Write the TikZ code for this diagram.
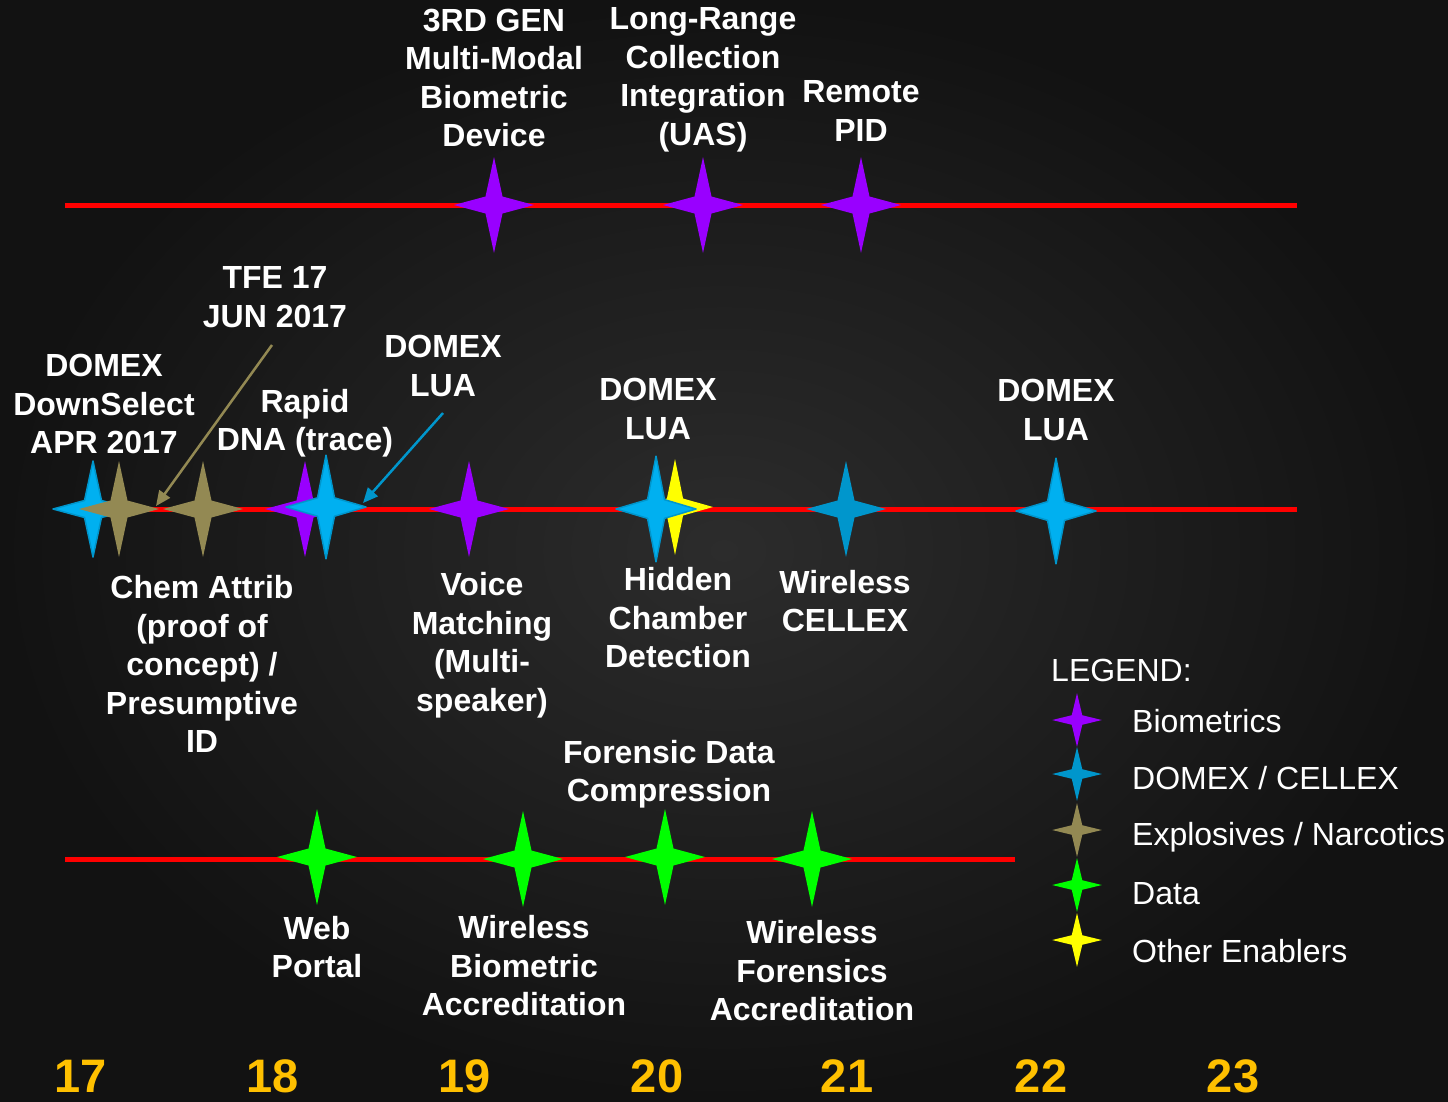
\documentclass[tikz,border=0pt]{standalone}
\usepackage{fontspec}
\setmainfont{Liberation Sans}
\usetikzlibrary{arrows.meta}

\definecolor{bio}{HTML}{9900FF}
\definecolor{domex}{HTML}{00B0F0}
\definecolor{domexdk}{HTML}{0096CC}
\definecolor{explo}{HTML}{938953}
\definecolor{datagr}{HTML}{00FF00}
\definecolor{enabler}{HTML}{FFFF00}
\definecolor{yearcol}{HTML}{FFC000}
\definecolor{bgmid}{HTML}{2C2C2C}
\definecolor{bgedge}{HTML}{121212}

\tikzset{
  pics/spark/.style={code={\path[pic actions,line join=round] (0,-48) -- (8.5,-8.5) -- (40,0) -- (8.5,8.5) -- (0,48) -- (-8.5,8.5) -- (-40,0) -- (-8.5,-8.5) -- cycle;}},
  lbl/.style={text=white,font=\bfseries\fontsize{32}{38.5}\selectfont,align=center,inner sep=0pt},
  leg/.style={text=white,font=\fontsize{32}{38}\selectfont,anchor=west,inner sep=0pt},
  yr/.style={text=yearcol,font=\bfseries\fontsize{47}{47}\selectfont,anchor=base,inner sep=0pt},
  track/.style={red,line width=5pt},
  bluestar/.style={fill=domex,draw=domexdk,line width=1.5pt},
  tick/.style={xscale=0.62,yscale=0.56},
}

\begin{document}
\begin{tikzpicture}[x=1pt,y=-1pt]
  \shade[inner color=bgmid,outer color=bgedge] (0,0) rectangle (1448,1101);
  \useasboundingbox (0,0) rectangle (1448,1101);

  % the three tracks
  \coordinate (t1w) at (65,205);  \coordinate (t1e) at (1297,205);
  \coordinate (t2w) at (65,509);  \coordinate (t2e) at (1297,509);
  \coordinate (t3w) at (65,859);  \coordinate (t3e) at (1015,859);
  \draw[track] (t1w) -- (t1e);
  \draw[track] (t2w) -- (t2e);
  \draw[track] (t3w) -- (t3e);

  % top track
  \coordinate (gen3) at (494,205);
  \coordinate (uas) at (703,205);
  \coordinate (pid) at (861,205);
  \pic[fill=bio] at (gen3) {spark};
  \pic[fill=bio] at (uas) {spark};
  \pic[fill=bio] at (pid) {spark};
  \node[lbl] (gen3-t) at (494,78) {3RD GEN\\Multi-Modal\\Biometric\\Device};
  \node[lbl] (uas-t) at (703,80) {Long-Range\\Collection\\Integration\\(UAS)};
  \node[lbl] (pid-t) at (861,111) {Remote\\PID};

  % middle track
  \coordinate (dsel) at (93,509);
  \coordinate (chemA) at (119,509);
  \coordinate (chemB) at (203,509);
  \coordinate (dna) at (305,509);
  \coordinate (luaA) at (326,507);
  \coordinate (voice) at (469,509);
  \coordinate (hidden) at (675,507);
  \coordinate (luaB) at (656,509);
  \coordinate (cellex) at (846,509);
  \coordinate (luaC) at (1056,511);
  \pic[bluestar] at (dsel) {spark};
  \pic[fill=explo] at (chemA) {spark};
  \pic[fill=explo] at (chemB) {spark};
  \pic[fill=bio] at (dna) {spark};
  \pic[bluestar,yscale=1.08] at (luaA) {spark};
  \pic[fill=bio] at (voice) {spark};
  \pic[fill=enabler,xscale=0.95] at (hidden) {spark};
  \pic[bluestar,yscale=1.1] at (luaB) {spark};
  \pic[fill=domexdk] at (cellex) {spark};
  \pic[bluestar,yscale=1.1] at (luaC) {spark};

  \node[lbl] (tfe-t) at (275,297) {TFE 17\\JUN 2017};
  \node[lbl] (dsel-t) at (104,404) {DOMEX\\DownSelect\\APR 2017};
  \node[lbl] (dna-t) at (305,423) {Rapid\\DNA (trace)};
  \node[lbl] (luaA-t) at (443,366) {DOMEX\\LUA};
  \node[lbl] (luaB-t) at (658,409) {DOMEX\\LUA};
  \node[lbl] (luaC-t) at (1056,410) {DOMEX\\LUA};
  \node[lbl] (chem-t) at (202,664) {Chem Attrib\\(proof of\\concept) /\\Presumptive\\ID};
  \node[lbl] (voice-t) at (482,645) {Voice\\Matching\\(Multi-\\speaker)};
  \node[lbl] (hidden-t) at (678,618) {Hidden\\Chamber\\Detection};
  \node[lbl] (cellex-t) at (845,601) {Wireless\\CELLEX};

  \coordinate (tfe-s) at (272,345);
  \coordinate (tfe-e) at (156,506);
  \coordinate (luaA-s) at (443,413);
  \coordinate (luaA-e) at (363,503);
  \draw[explo,line width=2.5pt,-{Triangle[length=15pt,width=13pt]}] (tfe-s) -- (tfe-e);
  \draw[domexdk,line width=2.5pt,-{Triangle[length=15pt,width=13pt]}] (luaA-s) -- (luaA-e);

  % bottom track
  \coordinate (web) at (317,857);
  \coordinate (wba) at (523,859);
  \coordinate (fdc) at (665,857);
  \coordinate (wfa) at (812,859);
  \pic[fill=datagr] at (web) {spark};
  \pic[fill=datagr] at (wba) {spark};
  \pic[fill=datagr] at (fdc) {spark};
  \pic[fill=datagr] at (wfa) {spark};
  \node[lbl] (fdc-t) at (669,774) {Forensic Data\\Compression};
  \node[lbl] (web-t) at (317,947) {Web\\Portal};
  \node[lbl] (wba-t) at (524,966) {Wireless\\Biometric\\Accreditation};
  \node[lbl] (wfa-t) at (812,971) {Wireless\\Forensics\\Accreditation};

  % legend
  \node[leg] (leg-t) at (1051,670) {LEGEND:};
  \coordinate (lg1) at (1077,720);
  \coordinate (lg2) at (1077,774);
  \coordinate (lg3) at (1077,830);
  \coordinate (lg4) at (1077,885);
  \coordinate (lg5) at (1077,940);
  \pic[fill=bio,tick] at (lg1) {spark};
  \pic[fill=domexdk,tick] at (lg2) {spark};
  \pic[fill=explo,tick] at (lg3) {spark};
  \pic[fill=datagr,tick] at (lg4) {spark};
  \pic[fill=enabler,tick] at (lg5) {spark};
  \node[leg] (lg1-t) at (1132,721) {Biometrics};
  \node[leg] (lg2-t) at (1132,778) {DOMEX / CELLEX};
  \node[leg] (lg3-t) at (1132,837) {Explosives / Narcotics};
  \node[leg] (lg4-t) at (1132,894) {Data};
  \node[leg] (lg5-t) at (1132,951) {Other Enablers};

  % years
  \foreach \yy/\xx in {17/81,18/273,19/465,20/657,21/847,22/1041,23/1233}
    \node[yr] (yr\yy) at (\xx,1092) {\yy};
\end{tikzpicture}
\end{document}
